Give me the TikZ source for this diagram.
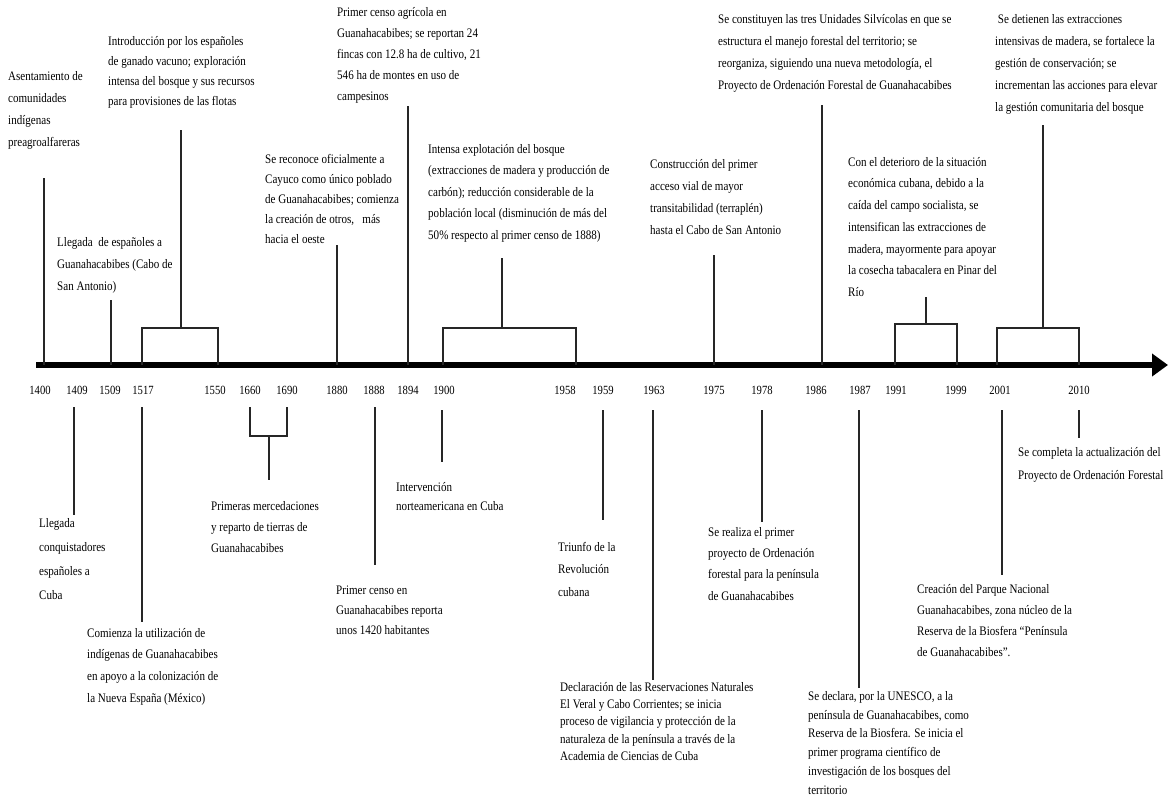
\documentclass[tikz,border=0pt]{standalone}
\usepackage{fontspec}
\setmainfont[FakeStretch=0.85]{Liberation Serif}
\usetikzlibrary{arrows.meta}

\tikzset{
  evento/.style={anchor=north west, inner sep=0pt, align=left, text=black,
    font=\fontsize{13}{#1}\selectfont},
  evento/.default=21,
  anio/.style={inner sep=0pt, text=black, font=\fontsize{12.5}{14}\selectfont},
  conector/.style={line width=1.5pt, draw=black!85},
  eje/.style={line width=6pt, -{Triangle[length=16pt,width=22pt]}}
}

\begin{document}
\begin{tikzpicture}[x=1pt, y=-1pt]
  \useasboundingbox (0,0) rectangle (1173,796);

  % eje del tiempo
  \coordinate (inicio) at (36,365);
  \coordinate (fin) at (1168,365);
  \draw[eje] (inicio) -- (fin);

  % años
  \node[anio] (y1400) at (40,390) {1400};
  \node[anio] (y1409) at (77,390) {1409};
  \node[anio] (y1509) at (110,390) {1509};
  \node[anio] (y1517) at (143,390) {1517};
  \node[anio] (y1550) at (215,390) {1550};
  \node[anio] (y1660) at (250,390) {1660};
  \node[anio] (y1690) at (287,390) {1690};
  \node[anio] (y1880) at (337,390) {1880};
  \node[anio] (y1888) at (374,390) {1888};
  \node[anio] (y1894) at (408,390) {1894};
  \node[anio] (y1900) at (444,390) {1900};
  \node[anio] (y1958) at (565,390) {1958};
  \node[anio] (y1959) at (603,390) {1959};
  \node[anio] (y1963) at (654,390) {1963};
  \node[anio] (y1975) at (714,390) {1975};
  \node[anio] (y1978) at (762,390) {1978};
  \node[anio] (y1986) at (816,390) {1986};
  \node[anio] (y1987) at (860,390) {1987};
  \node[anio] (y1991) at (896,390) {1991};
  \node[anio] (y1999) at (956,390) {1999};
  \node[anio] (y2001) at (1000,390) {2001};
  \node[anio] (y2010) at (1079,390) {2010};

  % eventos arriba
  \node[evento=22] (t1400) at (8,71) {Asentamiento de\\comunidades\\indígenas\\preagroalfareras};
  \node[evento=22] (t1509) at (57,237) {Llegada~ de españoles a\\Guanahacabibes (Cabo de\\San Antonio)};
  \node[evento=20] (t1517) at (108,36) {Introducción por los españoles\\de ganado vacuno; exploración\\intensa del bosque y sus recursos\\para provisiones de las flotas};
  \node[evento=20] (t1880) at (265,154) {Se reconoce oficialmente a\\Cayuco como único poblado\\de Guanahacabibes; comienza\\la creación de otros,\ \ \ más\\hacia el oeste};
  \node[evento=21] (t1894) at (337,7) {Primer censo agrícola en\\Guanahacabibes; se reportan 24\\fincas con 12.8 ha de cultivo, 21\\546 ha de montes en uso de\\campesinos};
  \node[evento=21.5] (t1900) at (428,144) {Intensa explotación del bosque\\(extracciones de madera y producción de\\carbón); reducción considerable de la\\población local (disminución de más del\\50\% respecto al primer censo de 1888)};
  \node[evento=22] (t1975) at (650,159) {Construcción del primer\\acceso vial de mayor\\transitabilidad (terraplén)\\hasta el Cabo de San Antonio};
  \node[evento=22] (t1986) at (718,14) {Se constituyen las tres Unidades Silvícolas en que se\\estructura el manejo forestal del territorio; se\\reorganiza, siguiendo una nueva metodología, el\\Proyecto de Ordenación Forestal de Guanahacabibes};
  \node[evento=21.7] (t1991) at (848,157) {Con el deterioro de la situación\\económica cubana, debido a la\\caída del campo socialista, se\\intensifican las extracciones de\\madera, mayormente para apoyar\\la cosecha tabacalera en Pinar del\\Río};
  \node[evento=22] (t2001) at (995,14) {\ Se detienen las extracciones\\intensivas de madera, se fortalece la\\gestión de conservación; se\\incrementan las acciones para elevar\\la gestión comunitaria del bosque};

  % eventos abajo
  \node[evento=24] (b1409) at (39,518) {Llegada\\conquistadores\\españoles a\\Cuba};
  \node[evento=21.7] (b1517) at (87,628) {Comienza la utilización de\\indígenas de Guanahacabibes\\en apoyo a la colonización de\\la Nueva España (México)};
  \node[evento=21] (b1660) at (211,501) {Primeras mercedaciones\\y reparto de tierras de\\Guanahacabibes};
  \node[evento=20] (b1888) at (336,586) {Primer censo en\\Guanahacabibes reporta\\unos 1420 habitantes};
  \node[evento=19.5] (b1900) at (396,482) {Intervención\\norteamericana en Cuba};
  \node[evento=22.5] (b1959) at (558,542) {Triunfo de la\\Revolución\\cubana};
  \node[evento=17.3] (b1963) at (560,682) {Declaración de las Reservaciones Naturales\\El Veral y Cabo Corrientes; se inicia\\proceso de vigilancia y protección de la\\naturaleza de la península a través de la\\Academia de Ciencias de Cuba};
  \node[evento=21.3] (b1978) at (708,527) {Se realiza el primer\\proyecto de Ordenación\\forestal para la península\\de Guanahacabibes};
  \node[evento=18.8] (b1987) at (808,691) {Se declara, por la UNESCO, a la\\península de Guanahacabibes, como\\Reserva de la Biosfera. Se inicia el\\primer programa científico de\\investigación de los bosques del\\territorio};
  \node[evento=21] (b2001) at (917,584) {Creación del Parque Nacional\\Guanahacabibes, zona núcleo de la\\Reserva de la Biosfera “Península\\de Guanahacabibes”.};
  \node[evento=23] (b2010) at (1018,447) {Se completa la actualización del\\Proyecto de Ordenación Forestal};

  % conectores arriba
  \coordinate (a1400) at (44,365);  \coordinate (c1400) at (44,178);
  \coordinate (a1509) at (111,365); \coordinate (c1509) at (111,300);
  \coordinate (a1517) at (142,365); \coordinate (a1550) at (218,365);
  \coordinate (h1517) at (181,328); \coordinate (c1517) at (181,130);
  \coordinate (a1880) at (337,365); \coordinate (c1880) at (337,245);
  \coordinate (a1894) at (408,365); \coordinate (c1894) at (408,106);
  \coordinate (a1900) at (443,365); \coordinate (a1958) at (576,365);
  \coordinate (h1900) at (502,328); \coordinate (c1900) at (502,258);
  \coordinate (a1975) at (714,365); \coordinate (c1975) at (714,255);
  \coordinate (a1986) at (822,365); \coordinate (c1986) at (822,105);
  \coordinate (a1991) at (895,365); \coordinate (a1999) at (957,365);
  \coordinate (h1991) at (926,324); \coordinate (c1991) at (926,297);
  \coordinate (a2001) at (997,365); \coordinate (a2010) at (1079,365);
  \coordinate (h2001) at (1043,328); \coordinate (c2001) at (1043,125);

  \draw[conector] (c1400) -- (a1400);
  \draw[conector] (c1509) -- (a1509);
  \draw[conector] (a1517) |- (h1517) -| (a1550);
  \draw[conector] (h1517) -- (c1517);
  \draw[conector] (c1880) -- (a1880);
  \draw[conector] (c1894) -- (a1894);
  \draw[conector] (a1900) |- (h1900) -| (a1958);
  \draw[conector] (h1900) -- (c1900);
  \draw[conector] (c1975) -- (a1975);
  \draw[conector] (c1986) -- (a1986);
  \draw[conector] (a1991) |- (h1991) -| (a1999);
  \draw[conector] (h1991) -- (c1991);
  \draw[conector] (a2001) |- (h2001) -| (a2010);
  \draw[conector] (h2001) -- (c2001);

  % conectores abajo
  \coordinate (d1409) at (74,407);  \coordinate (e1409) at (74,515);
  \coordinate (d1517) at (142,407); \coordinate (e1517) at (142,622);
  \coordinate (d1660) at (250,407); \coordinate (d1690) at (287,407);
  \coordinate (h1660) at (269,436); \coordinate (e1660) at (269,480);
  \coordinate (d1888) at (375,407); \coordinate (e1888) at (375,565);
  \coordinate (d1900) at (442,410); \coordinate (e1900) at (442,462);
  \coordinate (d1959) at (603,410); \coordinate (e1959) at (603,520);
  \coordinate (d1963) at (653,410); \coordinate (e1963) at (653,680);
  \coordinate (d1978) at (762,410); \coordinate (e1978) at (762,522);
  \coordinate (d1987) at (859,410); \coordinate (e1987) at (859,688);
  \coordinate (d2001) at (1002,410); \coordinate (e2001) at (1002,575);
  \coordinate (d2010) at (1079,410); \coordinate (e2010) at (1079,438);

  \draw[conector] (d1409) -- (e1409);
  \draw[conector] (d1517) -- (e1517);
  \draw[conector] (d1660) |- (h1660) -| (d1690);
  \draw[conector] (h1660) -- (e1660);
  \draw[conector] (d1888) -- (e1888);
  \draw[conector] (d1900) -- (e1900);
  \draw[conector] (d1959) -- (e1959);
  \draw[conector] (d1963) -- (e1963);
  \draw[conector] (d1978) -- (e1978);
  \draw[conector] (d1987) -- (e1987);
  \draw[conector] (d2001) -- (e2001);
  \draw[conector] (d2010) -- (e2010);
\end{tikzpicture}
\end{document}
